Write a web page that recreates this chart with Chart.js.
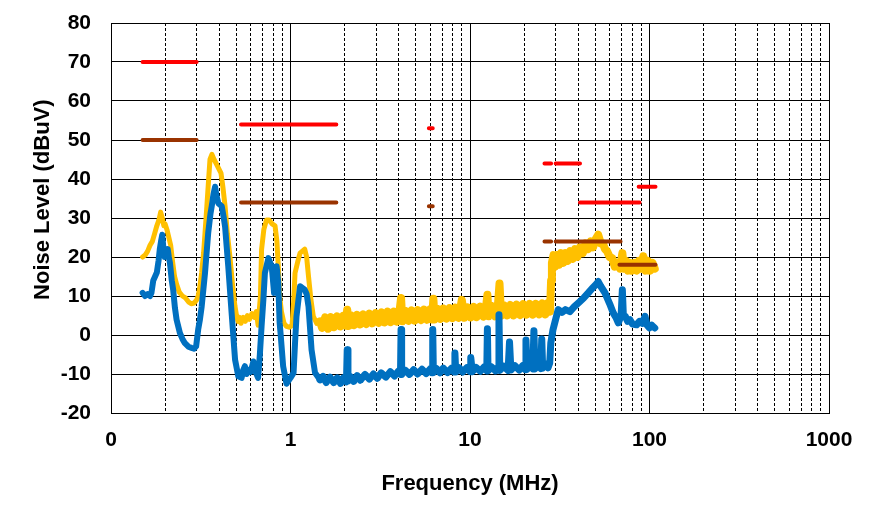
<!DOCTYPE html>
<html>
<head>
<meta charset="utf-8">
<script src="https://cdn.jsdelivr.net/npm/chart.js@4.4.0/dist/chart.umd.min.js"></script>
<style>
  html, body { margin: 0; padding: 0; background: #fff; }
  canvas { display: block; }
</style>
</head>
<body>
<canvas id="graficaRuido" width="877" height="510"></canvas>
<script>
// [frequency MHz, level dBuV]
var peakScan = [
  [0.15,20],[0.155,20.5],[0.16,21.5],[0.165,23],[0.17,24],[0.175,26],[0.18,28],[0.185,29.5],
  [0.189,31.5],[0.193,30],[0.197,28],[0.2,28.5],[0.205,27],[0.21,25],[0.215,23],[0.22,19],
  [0.226,15],[0.232,13],[0.24,11],[0.25,10],[0.26,9.5],[0.27,8.5],[0.28,8],[0.29,8.2],[0.3,9],
  [0.306,10],[0.313,12.5],[0.32,16],[0.328,21],[0.335,27],[0.342,33],[0.35,40],[0.356,45],
  [0.365,46.3],[0.375,45],[0.385,44],[0.395,43],[0.41,41.5],[0.42,38],[0.432,33],[0.445,26],
  [0.46,20],[0.475,13],[0.49,7.5],[0.5,5],[0.51,3.5],[0.52,4.5],[0.53,3],[0.545,4.5],[0.56,3.5],
  [0.575,5],[0.59,4],[0.61,5.5],[0.63,4.5],[0.645,6],[0.66,2.5],[0.68,10],[0.69,21.9],[0.71,27],
  [0.735,29.5],[0.76,29.5],[0.79,28.5],[0.82,28],[0.84,24],[0.855,17.6],[0.87,10],[0.89,6],
  [0.92,3],[0.95,2.2],[0.99,2],[1.02,2.5],[1.04,8],[1.06,15.9],[1.1,19],[1.13,21],[1.2,22],
  [1.23,20],[1.26,15],[1.3,9],[1.34,4.8],[1.4,3],[1.46,3.5],
  [1.5,1.8],[1.56,4.5],[1.62,1.6],[1.68,4.6],[1.75,2.0],[1.82,4.8],[1.9,2.2],[1.97,4.9],
  [2.03,2.4],[2.07,6.5],[2.11,2.3],[2.18,5.0],[2.26,2.5],[2.35,5.2],[2.44,2.7],[2.54,5.3],
  [2.64,2.8],[2.75,5.5],[2.86,3.0],[2.98,5.6],[3.1,3.1],[3.22,5.8],[3.35,3.2],[3.48,6.0],
  [3.62,3.3],[3.77,6.0],[3.92,3.4],[4.05,6.1],[4.13,9.5],[4.2,3.5],[4.37,6.2],[4.55,3.6],
  [4.73,6.3],[4.92,3.7],[5.12,6.4],[5.33,3.8],[5.55,6.5],[5.77,3.9],[6.0,6.6],[6.15,4.0],
  [6.25,9.3],[6.35,4.0],[6.6,6.7],[6.85,4.1],[7.1,6.8],[7.4,4.2],[7.7,6.9],[8.0,4.3],[8.3,7.0],
  [8.65,4.4],[9.0,9.0],[9.3,4.4],[9.7,7.1],[10.1,4.5],[10.5,7.2],[10.9,4.6],[11.4,7.3],
  [11.9,4.7],[12.3,7.4],[12.5,10.3],[12.7,4.8],[13.2,7.5],[13.8,4.8],[14.3,7.5],[14.6,13.2],
  [14.9,4.9],[15.5,7.6],[16.1,5.0],[16.8,7.7],[17.5,5.0],[18.2,7.8],[19.0,5.1],[19.8,7.9],
  [20.6,5.2],[21.5,8.0],[22.4,5.2],[23.3,8.0],[24.3,5.3],[25.3,8.1],[26.3,5.3],[27.2,8.2],
  [27.9,6.0],[28.3,14],[28.6,18.5],[29.2,20.5],[29.8,17.5],[30.5,20.5],[31.3,18],[32.2,21],
  [33.1,18.5],[34.1,21],[35.1,19],[36.2,21.5],[37.3,19.5],[38.5,22],[39.7,20],[41,22.5],
  [42.5,21],[44,23.5],[45.5,22],[47,24],[48.5,22.5],[50,24.5],[51.8,25.7],[53.5,23.5],[55,23.5],
  [56.5,22],[58,21.5],[60,20],[62,19.7],[64,17.5],[66,18.5],[68.5,17],[70.6,21],[72,17],
  [74,19],[76,16.5],[78,18.5],[80,16.5],[82.5,18.5],[85,16.5],[87.5,19],[90,17],[92.4,20.2],
  [95,16.5],[98,19],[101,16.5],[104,18.5],[107,17]
];

var avgScan = [
  [0.15,10.8],[0.155,10],[0.16,10.5],[0.165,10],[0.168,10.8],[0.172,14],[0.176,15],[0.18,16],
  [0.184,19],[0.187,22],[0.19,24],[0.193,25.7],[0.196,22],[0.199,20],[0.203,21.5],[0.207,22],
  [0.21,20],[0.213,18.5],[0.218,14],[0.222,11.6],[0.227,7],[0.232,3.9],[0.242,0.5],[0.25,-1],
  [0.258,-2.1],[0.27,-3],[0.281,-3.3],[0.29,-3.5],[0.298,-2.9],[0.306,1.4],[0.313,4],[0.32,7.3],
  [0.334,15.9],[0.348,26.2],[0.358,31],[0.364,33],[0.372,36],[0.38,38],[0.386,36],[0.396,33.8],
  [0.414,33],[0.425,30],[0.432,27.8],[0.45,17.6],[0.47,5.6],[0.491,-6.3],[0.512,-10.6],
  [0.534,-11],[0.545,-9],[0.557,-8],[0.57,-10],[0.581,-8.9],[0.6,-9.5],[0.621,-6.8],[0.64,-9.5],
  [0.66,-11],[0.675,-5],[0.69,2.2],[0.706,9],[0.72,15.9],[0.753,19.7],[0.786,17.6],[0.81,10.8],
  [0.837,17.6],[0.855,13.3],[0.87,3.1],[0.88,0.5],[0.91,-8],[0.95,-12.5],[0.97,-11.9],[1.0,-11],
  [1.04,-9.7],[1.06,-2],[1.08,4.8],[1.13,12.5],[1.2,11.6],[1.23,10.5],[1.26,7.3],[1.31,-3.8],
  [1.37,-9.7],[1.46,-11.5],[1.52,-10.6],[1.58,-12.2],[1.66,-10.8],[1.74,-12.2],[1.82,-11],
  [1.9,-12.4],[1.97,-11],[2.05,-12],[2.07,-3.8],[2.09,-11.8],[2.15,-10.6],[2.25,-11.9],
  [2.35,-10.4],[2.45,-11.6],[2.6,-10.1],[2.75,-11.3],[2.9,-10],[3.05,-11.1],[3.2,-9.7],
  [3.4,-10.8],[3.6,-9.4],[3.8,-10.5],[4.0,-9.2],[4.1,-10.1],[4.13,1.4],[4.16,-10.1],[4.35,-9.0],
  [4.6,-10.1],[4.85,-8.9],[5.1,-10],[5.4,-8.8],[5.7,-9.9],[6.0,-8.7],[6.15,-9.7],[6.2,1.4],
  [6.25,-9.7],[6.5,-8.6],[6.8,-9.7],[7.1,-8.5],[7.5,-9.6],[7.9,-8.5],[8.15,-9.5],[8.24,-4.6],
  [8.33,-9.5],[8.7,-8.4],[9.1,-9.5],[9.6,-8.4],[10.0,-9.4],[10.1,-5.8],[10.3,-9.4],[10.8,-8.3],
  [11.4,-9.3],[12.0,-8.2],[12.4,-9.2],[12.5,1.6],[12.6,-9.2],[13.2,-8.2],[13.9,-9.2],[14.4,-8.1],
  [14.5,5.2],[14.65,-9.1],[15.4,-8],[16.3,-9.1],[16.6,-1.8],[16.9,-9],[17.8,-7.9],[18.8,-9],
  [19.7,-7.8],[20.3,-8.9],[20.5,-1.3],[20.8,-8.8],[21.8,-7.7],[22.4,-8.7],[22.7,1.1],[23.0,-8.7],
  [24,-7.6],[24.8,-8.6],[25.1,-1.0],[25.4,-8.5],[26.3,-7.4],[27.2,-8.4],[27.8,-7.2],
  [28.2,-2],[29,1.4],[30,4],[31,6.5],[32.5,5.8],[34,6.5],[36,6],[38,7.2],[41,8.6],
  [43,9.5],[45.6,10.8],[48,12],[50,12.8],[51.8,13.7],[53.5,12.5],[56.5,10.8],[60,8],[62.9,5.6],
  [65,4.5],[67,3.1],[69.5,5],[70.6,11.6],[71.5,5],[73.3,4.8],[75.5,3.5],[77.8,3.9],[80.5,2.8],
  [84.7,2.6],[88,3.5],[91,3.0],[94.4,4.8],[97,2.5],[100,1.8],[103,2.5],[107,1.8]
];

// limit lines, [f, null] breaks the line
var qpLimit = [
  [0.15,70],[0.3,70],[0.4,null],[0.53,54],[1.8,54],[3,null],[5.9,53],[6.2,53],[10,null],
  [26,44],[28.3,44],[29,null],[30,44],[41,44],[41,null],[41,34],[88,34],[88,null],[87,38],[108,38]
];
var avLimit = [
  [0.15,50],[0.3,50],[0.4,null],[0.53,34],[1.8,34],[3,null],[5.9,33],[6.2,33],[10,null],
  [26,24],[28.3,24],[29,null],[30,24],[69,24],[69,null],[68,18],[108,18]
];

var xTicks = [0.1,0.2,0.3,0.4,0.5,0.6,0.7,0.8,0.9,1,2,3,4,5,6,7,8,9,10,20,30,40,50,60,70,80,90,
  100,200,300,400,500,600,700,800,900,1000];
var xDecades = [0.1,1,10,100,1000];
var xLabels = ['0','1','10','100','1000'];
var yMin = -20, yMax = 80, yStep = 10;

var fontFam = "'Liberation Sans', Arial, Helvetica, sans-serif";

function toXY(list) {
  return list.map(function (p) { return { x: p[0], y: p[1] }; });
}

function isDecade(v) {
  return xDecades.indexOf(v) >= 0;
}

// the scan above 1.45 MHz is a noisy band, drawn a bit wider
function bandWidth(narrow, wide) {
  return function (c) {
    return c.p0.parsed.x >= 1.45 ? wide : narrow;
  };
}

var ctx = document.getElementById('graficaRuido');
var chart = new Chart(ctx, {
  type: 'line',
  data: {
    datasets: [
      { label: 'QP limit', data: toXY(qpLimit), borderColor: '#FF0000', borderWidth: 4,
        borderCapStyle: 'round', pointRadius: 0 },
      { label: 'AV limit', data: toXY(avLimit), borderColor: '#993300', borderWidth: 4,
        borderCapStyle: 'round', pointRadius: 0 },
      { label: 'Average', data: toXY(avgScan), borderColor: '#0070C0', borderWidth: 6,
        borderJoinStyle: 'round', borderCapStyle: 'round', pointRadius: 0,
        segment: { borderWidth: bandWidth(6, 7) } },
      { label: 'Peak', data: toXY(peakScan), borderColor: '#FFC000', borderWidth: 5,
        borderJoinStyle: 'round', borderCapStyle: 'round', pointRadius: 0,
        segment: { borderWidth: bandWidth(5, 8) } }
    ]
  },
  options: {
    responsive: false,
    animation: false,
    devicePixelRatio: 1,
    layout: { padding: { top: 23, right: 48, left: 0, bottom: 0 } },
    plugins: { legend: { display: false }, tooltip: { enabled: false } },
    elements: { line: { tension: 0 } },
    scales: {
      x: {
        type: 'logarithmic',
        min: 0.1,
        max: 1000,
        afterBuildTicks: function (scale) {
          scale.ticks = xTicks.map(function (v) { return { value: v }; });
        },
        afterFit: function (scale) { scale.height = 97; },
        ticks: {
          autoSkip: false,
          maxRotation: 0,
          padding: 15,
          color: '#000',
          font: { family: fontFam, size: 21, weight: 'bold' },
          callback: function (value) {
            var i = xDecades.indexOf(value);
            return i >= 0 ? xLabels[i] : '';
          }
        },
        grid: { color: '#000', lineWidth: 1, drawTicks: false },
        border: {
          color: '#000',
          width: 1,
          dash: function (c) {
            if (!c.tick) return [];
            return isDecade(c.tick.value) ? [] : [3, 2];
          }
        },
        title: {
          display: true,
          text: 'Frequency (MHz)',
          color: '#000',
          font: { family: fontFam, size: 22, weight: 'bold' },
          padding: { top: 0, bottom: 13 }
        }
      },
      y: {
        min: yMin,
        max: yMax,
        afterFit: function (scale) { scale.width = 111; },
        ticks: {
          stepSize: yStep,
          padding: 0,
          color: '#000',
          font: { family: fontFam, size: 21, weight: 'bold' }
        },
        // invisible tick marks keep the labels clear of the axis
        grid: { color: '#000', lineWidth: 1, drawTicks: true, tickLength: 20,
          tickColor: 'rgba(0,0,0,0)' },
        border: { color: '#000', width: 1 },
        title: {
          display: true,
          text: '      Noise Level (dBuV)',
          color: '#000',
          font: { family: fontFam, size: 22, weight: 'bold' },
          padding: { top: 30, bottom: 0 }
        }
      }
    }
  }
});
</script>
</body>
</html>
